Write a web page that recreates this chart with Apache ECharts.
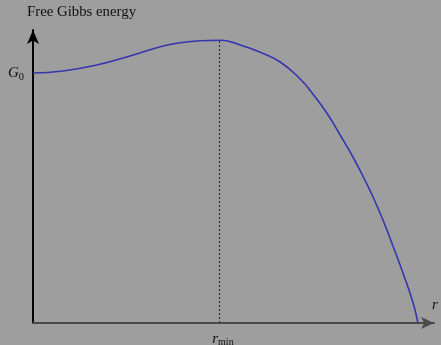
<!DOCTYPE html>
<html>
<head>
<meta charset="utf-8">
<script src="https://cdn.jsdelivr.net/npm/echarts@6/dist/echarts.min.js"></script>
<style>
html,body{margin:0;padding:0;background:#9e9e9e;}
#c{width:441px;height:345px;}
</style>
</head>
<body>
<div id="c"></div>
<script>
// radius values (r) and free Gibbs energy values (G), G0 = 1
var rValues = [0, 0.078, 0.166, 0.252, 0.338, 0.382, 0.434, 0.486, 0.538, 0.590, 0.642, 0.694, 0.727, 0.764, 0.797, 0.831, 0.862, 0.883, 0.909, 0.935, 0.961, 0.987, 1.0];
var gValues = [1.0, 1.008, 1.032, 1.068, 1.108, 1.121, 1.129, 1.131, 1.112, 1.083, 1.044, 0.976, 0.916, 0.838, 0.754, 0.664, 0.572, 0.505, 0.412, 0.308, 0.200, 0.082, 0];
var rMin = 0.483;
var gPeak = 1.131;
var g0 = 1.0;
var yTitle = 'Free Gibbs energy';

var serif = '"Liberation Serif", "Times New Roman", serif';
var data = rValues.map(function (r, i) { return [r, gValues[i]]; });

var chart = echarts.init(document.getElementById('c'), null, {renderer: 'canvas'});
chart.setOption({
  backgroundColor: '#9e9e9e',
  animation: false,
  grid: {left: 33, top: 30, width: 401, bottom: 22, containLabel: false, outerBoundsMode: 'none'},
  xAxis: {
    type: 'value', min: 0, max: 1.0416,
    splitLine: {show: false},
    axisTick: {show: false},
    axisLine: {show: true, lineStyle: {color: '#4a4a4a', width: 2}, symbol: ['none', 'arrow'], symbolSize: [9, 13]},
    axisLabel: {
      customValues: [rMin], margin: 7, padding: [0, 0, 0, 8],
      formatter: function () { return '{i|r}{s|min}'; },
      rich: {
        i: {fontFamily: serif, fontStyle: 'italic', fontSize: 15, color: '#111', verticalAlign: 'bottom'},
        s: {fontFamily: serif, fontSize: 10, color: '#111', padding: [7, 0, 0, 0], verticalAlign: 'bottom'}
      }
    },
    name: 'r', nameLocation: 'end', nameGap: 1,
    nameTextStyle: {fontFamily: serif, fontStyle: 'italic', fontSize: 15, color: '#111', verticalAlign: 'bottom', align: 'center', padding: [0, 0, 10, 0]}
  },
  yAxis: {
    type: 'value', min: 0, max: 1.172,
    splitLine: {show: false},
    axisTick: {show: false},
    axisLine: {show: true, onZero: false, lineStyle: {color: '#000', width: 2}, symbol: ['none', 'arrow'], symbolSize: [9, 14]},
    axisLabel: {
      customValues: [g0], margin: 9,
      formatter: function () { return '{i|G}{s|0}'; },
      rich: {
        i: {fontFamily: serif, fontStyle: 'italic', fontSize: 15, color: '#111'},
        s: {fontFamily: serif, fontSize: 10.5, color: '#111', padding: [8, 0, 0, 0]}
      }
    }
  },
  graphic: [{
    type: 'text', left: 27, top: 5,
    style: {text: yTitle, font: '14.8px ' + serif, fill: '#111'}
  }],
  series: [{
    type: 'line', data: data, showSymbol: false, smooth: 0.5,
    lineStyle: {color: '#3535b0', width: 1.6},
    markLine: {
      silent: true, symbol: ['none', 'none'],
      label: {show: false},
      lineStyle: {color: '#333', width: 1.2, type: [2, 2]},
      data: [[{coord: [rMin, 0]}, {coord: [rMin, gPeak]}]]
    }
  }]
});
</script>
</body>
</html>
